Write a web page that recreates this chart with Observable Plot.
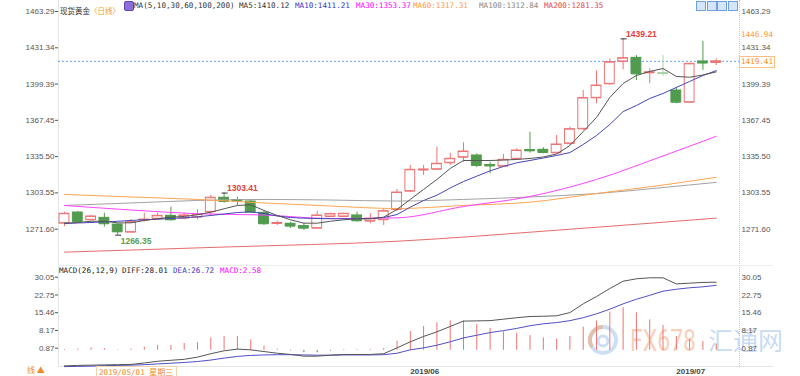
<!DOCTYPE html>
<html><head><meta charset="utf-8">
<script src="https://cdn.jsdelivr.net/npm/d3@7"></script>
<script src="https://cdn.jsdelivr.net/npm/@observablehq/plot@0.6"></script>
<style>
html,body{margin:0;padding:0;background:#fff;}
#wrap{position:relative;width:800px;height:376px;overflow:hidden;background:#fff;}
.abs{position:absolute;white-space:nowrap;line-height:1;}
.mono{font-family:"DejaVu Sans Mono","Liberation Mono",monospace;font-size:7.6px;}
.cjk{font-family:"Noto Sans CJK SC",sans-serif;}
#wrap svg{position:absolute;left:0;overflow:visible;}
</style></head><body><div id="wrap"></div>
<script>
// ---------- data ----------
const dates = ["2019-04-26","2019-04-29","2019-04-30","2019-05-01","2019-05-02","2019-05-03","2019-05-06","2019-05-07","2019-05-08","2019-05-09","2019-05-10","2019-05-13","2019-05-14","2019-05-15","2019-05-16","2019-05-17","2019-05-20","2019-05-21","2019-05-22","2019-05-23","2019-05-24","2019-05-27","2019-05-28","2019-05-29","2019-05-30","2019-05-31","2019-06-03","2019-06-04","2019-06-05","2019-06-06","2019-06-07","2019-06-10","2019-06-11","2019-06-12","2019-06-13","2019-06-14","2019-06-17","2019-06-18","2019-06-19","2019-06-20","2019-06-21","2019-06-24","2019-06-25","2019-06-26","2019-06-27","2019-06-28","2019-07-01","2019-07-02","2019-07-03","2019-07-04"];
const open  = [1276.9,1286.3,1279.9,1281.6,1275.7,1269.0,1279.7,1280.8,1283.4,1281.3,1282.2,1286.9,1299.3,1297.3,1296.0,1286.0,1276.6,1276.4,1274.3,1272.5,1282.8,1282.8,1283.7,1278.7,1279.9,1289.0,1305.1,1323.7,1324.4,1330.1,1335.0,1336.5,1328.1,1327.1,1333.6,1341.3,1341.5,1338.9,1347.1,1360.0,1387.3,1399.6,1419.3,1422.5,1409.3,1409.1,1393.7,1383.4,1419.3,1418.4];
const high  = [1286.6,1287.2,1283.7,1285.7,1276.4,1279.9,1285.7,1285.7,1291.0,1285.7,1288.7,1301.3,1303.41,1299.8,1297.5,1287.5,1278.7,1277.8,1276.9,1287.2,1285.7,1285.7,1286.6,1285.2,1289.6,1306.6,1327.7,1327.7,1343.8,1338.5,1347.7,1338.0,1330.6,1337.4,1342.4,1357.0,1343.5,1354.1,1361.4,1393.7,1411.1,1421.6,1439.21,1424.5,1412.8,1424.5,1396.6,1417.8,1437.1,1421.6];
const low   = [1274.0,1277.5,1279.0,1273.4,1266.35,1268.7,1277.8,1279.9,1278.7,1279.9,1279.9,1282.8,1294.5,1292.5,1285.7,1274.9,1274.9,1272.2,1270.5,1272.0,1281.9,1282.2,1277.8,1276.4,1274.9,1287.2,1304.2,1318.9,1323.9,1327.7,1330.6,1325.7,1320.4,1326.2,1332.7,1338.5,1338.0,1338.0,1345.3,1358.5,1382.0,1398.7,1412.0,1402.5,1399.6,1406.1,1382.0,1382.9,1411.3,1415.7];
const close = [1285.2,1278.4,1282.8,1276.4,1269.3,1277.8,1280.1,1283.4,1279.9,1283.7,1284.5,1299.3,1296.0,1296.4,1286.6,1276.4,1277.1,1274.3,1272.5,1283.7,1285.0,1285.2,1279.0,1280.8,1287.5,1303.9,1323.9,1324.2,1329.2,1333.6,1340.0,1327.7,1327.3,1332.7,1340.9,1340.6,1339.1,1346.2,1359.7,1387.1,1398.1,1418.7,1422.2,1408.4,1409.8,1408.7,1383.4,1417.2,1417.9,1419.41];

const ma5  = [1276.9,1277.5,1278.6,1278.6,1277.2,1277.2,1279.3,1280.8,1282.2,1282.8,1284.3,1286.6,1289.6,1292.5,1293.1,1288.1,1283.7,1279.9,1276.9,1276.9,1278.6,1279.9,1280.8,1280.8,1282.2,1289.0,1297.8,1306.6,1315.4,1325.1,1332.1,1332.1,1332.1,1332.5,1333.0,1333.9,1335.2,1337.8,1345.3,1357.6,1370.0,1387.6,1399.9,1406.9,1410.5,1413.1,1406.1,1405.4,1407.4,1410.12];
const ma10 = [1276.6,1277.1,1277.5,1278.1,1278.6,1279.3,1279.9,1280.4,1281.0,1281.6,1282.5,1283.7,1285.0,1286.3,1286.9,1285.4,1283.2,1281.9,1281.3,1281.0,1280.8,1280.8,1280.8,1281.0,1281.9,1284.5,1291.0,1296.9,1301.5,1307.9,1313.6,1318.3,1323.0,1326.8,1330.1,1332.1,1334.3,1336.5,1339.1,1346.2,1354.1,1363.8,1375.2,1380.5,1386.7,1391.1,1396.4,1401.7,1406.9,1411.21];
const slowIdx = [0,5,10,15,20,25,30,35,40,45,49];
const ma30  = [1292.5,1288.5,1285.2,1284.1,1281.0,1281.6,1291.6,1300.4,1315.4,1336.1,1353.37];
const ma60  = [1302.2,1300.0,1297.8,1294.7,1292.0,1289.8,1292.5,1295.4,1303.0,1310.5,1317.31];
const ma100 = [1292.5,1294.7,1296.9,1297.8,1297.3,1296.4,1297.8,1300.0,1303.0,1308.3,1312.84];
const ma200Idx = [0,12,25,37,49];
const ma200 = [1251.4,1255.9,1261.0,1270.7,1281.35];

const diff = [-6.4,-6.2,-6.1,-6.0,-5.9,-5.8,-5.2,-4.5,-4.1,-3.7,-2.8,-1.4,-0.2,0.5,0.2,-0.5,-1.2,-1.7,-2.4,-2.4,-2.0,-1.7,-1.7,-1.7,-1.4,1.0,3.5,5.7,7.6,9.8,12.0,12.1,12.2,12.8,13.4,13.9,14.0,14.2,15.5,19.1,22.1,25.4,28.4,29.4,29.8,29.8,27.3,27.6,27.9,28.01];
const dea  = [-6.7,-6.6,-6.5,-6.3,-6.2,-6.1,-5.9,-5.6,-5.3,-5.0,-4.6,-4.0,-3.2,-2.5,-2.1,-1.9,-1.8,-1.8,-1.9,-2.0,-2.0,-1.9,-1.9,-1.9,-1.8,-1.2,0.2,1.0,2.1,3.5,5.1,6.2,7.3,8.1,9.0,10.1,10.9,11.4,12.2,13.4,15.0,16.9,19.1,21.0,22.6,24.3,25.1,25.7,26.1,26.72];
const hist = [0.3,0.5,1.0,0.7,0.2,0.5,1.3,2.0,2.0,2.8,3.2,5.1,5.7,5.7,4.3,1.8,0.5,-0.3,-1.0,-1.0,-0.3,0.3,0.3,0.3,0.7,3.7,7.7,9.8,11.3,12.1,12.1,10.6,9.0,7.6,7.0,6.1,5.1,4.6,5.7,9.5,12.0,15.7,17.5,15.4,12.5,10.2,5.7,4.5,3.6,2.58];

const mainTicks = [1271.60,1303.55,1335.50,1367.45,1399.39,1431.34,1463.29];
const macdTicks = [0.87,8.17,15.46,22.75,30.05];
const extremes = [{i:42, v:1439.21, side:"high"},{i:12, v:1303.41, side:"high"},{i:4, v:1266.35, side:"low"}];
const maLabels = [["MA5:1410.12","#333"],["MA10:1411.21","#3535c8"],["MA30:1353.37","#f0f"],["MA60:1317.31","#ff9a3c"],["MA100:1312.84","#888"],["MA200:1281.35","#e04848"]];
const macdLabels = [["MACD(26,12,9)","#222"],["DIFF:28.01","#222"],["DEA:26.72","#3535c8"],["MACD:2.58","#f0f"]];
const markedPrice = 1446.94;

// ---------- styling ----------
const RED = "#ee7373", GREEN = "#519b4e", PALE = "#a9d6a4";
const paleIdx = 45;
const N = close.length;
const candles = d3.range(N).map(i => ({i, open: open[i], high: high[i], low: low[i], close: close[i]}));
const up = d => d.close >= d.open;
const col = d => d.i === paleIdx ? PALE : (up(d) ? RED : GREEN);
const hw = 0.37;
const xDom = [-0.45, 50.75];
const font = "'Liberation Sans', Arial, sans-serif";

const wrap = document.getElementById("wrap");
function add(html, style, cls = "abs") { const e = document.createElement("div"); e.className = cls; e.innerHTML = html; Object.assign(e.style, style); wrap.appendChild(e); return e; }

// watermark (behind everything)
add('<svg width="34" height="34" viewBox="0 0 34 34" style="position:static"><circle cx="17" cy="17" r="13" fill="none" stroke="#8fb7e6" stroke-width="4" opacity="0.45"/><path d="M17 4 A13 13 0 0 0 6 24" fill="none" stroke="#f3a46b" stroke-width="4" opacity="0.5"/><circle cx="17" cy="18" r="5" fill="none" stroke="#8fb7e6" stroke-width="3" opacity="0.45"/></svg>', {left: "586px", top: "323px"});
add("FX678", {left: "630px", top: "324px", fontFamily: "Roboto, sans-serif", fontSize: "32px", color: "rgba(240,128,70,0.38)", transform: "scaleX(0.72)", transformOrigin: "left top"});
add('<span class="cjk">汇通网</span>', {left: "708px", top: "327px", fontSize: "25px", color: "rgba(120,168,228,0.42)"});

// frame lines
add("", {left:"58px", top:"0px", width:"1px", height:"366px", background:"#e4e4e4"});
add("", {left:"739px", top:"0px", width:"0px", height:"366px", borderLeft:"1px dotted #c8c8c8"});
add("", {left:"58px", top:"265px", width:"715px", height:"1px", background:"#ececec"});
add("", {left:"58px", top:"366px", width:"715px", height:"1px", background:"#e4e4e4"});

const pts = (idx, vals) => vals.map((v, k) => ({i: idx[k], v}));
const seq = vals => vals.map((v, i) => ({i, v}));

const main = Plot.plot({
  width: 800, height: 264, marginLeft: 58, marginRight: 61, marginTop: 0, marginBottom: 0,
  x: {type: "linear", domain: xDom, axis: null},
  y: {domain: [1240.52, 1472.98], axis: null},
  style: {background: "none", fontFamily: font, fontSize: "8px", overflow: "visible"},
  marks: [
    Plot.axisY({anchor: "left", ticks: mainTicks, tickFormat: d => d.toFixed(2), tickSize: 3, tickPadding: 1, color: "#555", label: null}),
    Plot.axisY({anchor: "right", ticks: mainTicks, tickFormat: d => d.toFixed(2), tickSize: 0, tickPadding: 2, color: "#555", label: null}),
    Plot.ruleY([close[N-1]], {stroke: "#63a7f0", strokeDasharray: "2,2"}),
    // wicks (not through bodies)
    Plot.ruleX(candles, {x: "i", y1: "high", y2: d => Math.max(d.open, d.close), stroke: col}),
    Plot.ruleX(candles, {x: "i", y1: d => Math.min(d.open, d.close), y2: "low", stroke: col}),
    Plot.rect(candles, {x1: d => d.i - hw, x2: d => d.i + hw, y1: "open", y2: "close", fill: d => up(d) ? "none" : col(d), stroke: col}),
    Plot.ruleY(candles, {y: "open", x1: d => d.i - hw, x2: d => d.i + hw, stroke: col}),
    Plot.ruleY(candles, {y: "close", x1: d => d.i - hw, x2: d => d.i + hw, stroke: col}),
    // moving averages
    Plot.line(pts(ma200Idx, ma200), {x: "i", y: "v", stroke: "#e86b6b", strokeWidth: 1, curve: "monotone-x"}),
    Plot.line(pts(slowIdx, ma100), {x: "i", y: "v", stroke: "#a3a3a3", strokeWidth: 1, curve: "monotone-x"}),
    Plot.line(pts(slowIdx, ma60), {x: "i", y: "v", stroke: "#ffa54f", strokeWidth: 1, curve: "monotone-x"}),
    Plot.line(pts(slowIdx, ma30), {x: "i", y: "v", stroke: "#ff44ff", strokeWidth: 1, curve: "monotone-x"}),
    Plot.line(seq(ma10), {x: "i", y: "v", stroke: "#4646b8", strokeWidth: 1}),
    Plot.line(seq(ma5), {x: "i", y: "v", stroke: "#555", strokeWidth: 1}),
    // extreme markers
    Plot.ruleY(extremes, {y: "v", x1: d => d.i - 0.15, x2: d => d.i + 0.3, stroke: "#333"}),
    Plot.text(extremes.filter(d => d.side === "high"), {x: "i", y: "v", text: d => d.v.toFixed(2), dx: 3, dy: -5, textAnchor: "start", fill: "#e04040", fontWeight: "bold", fontSize: 8.5}),
    Plot.text(extremes.filter(d => d.side === "low"), {x: "i", y: "v", text: d => d.v.toFixed(2), dx: 3, dy: 6, textAnchor: "start", fill: "#5a9e52", fontWeight: "bold", fontSize: 8.5})
  ]
});
main.style.top = "0px";
wrap.appendChild(main);

const macdRows = d3.range(N).map(i => ({i, diff: diff[i], dea: dea[i], h: hist[i]}));
const monthTicks = d3.range(1, N).filter(i => dates[i].slice(5, 7) !== dates[i-1].slice(5, 7) && dates[i].slice(5, 7) !== "05");
const macd = Plot.plot({
  width: 800, height: 112, marginLeft: 58, marginRight: 61, marginTop: 0, marginBottom: 10,
  x: {type: "linear", domain: xDom, axis: null},
  y: {domain: [-6.65, 35.27], axis: null},
  style: {background: "none", fontFamily: font, fontSize: "8px", overflow: "visible"},
  marks: [
    Plot.axisY({anchor: "left", ticks: macdTicks, tickFormat: d => d.toFixed(2), tickSize: 3, tickPadding: 1, color: "#555", label: null}),
    Plot.axisY({anchor: "right", ticks: macdTicks, tickFormat: d => d.toFixed(2), tickSize: 0, tickPadding: 2, color: "#555", label: null}),
    Plot.axisX({ticks: monthTicks, tickFormat: i => dates[i].slice(0, 7).replace("-", "/"), tickSize: 0, tickPadding: 2, textAnchor: "start", color: "#444", fontWeight: "bold", label: null}),
    Plot.ruleX(macdRows, {x: "i", y1: 0, y2: "h", stroke: d => d.h >= 0 ? RED : GREEN}),
    Plot.line(macdRows, {x: "i", y: "dea", stroke: "#4f4fc8", strokeWidth: 1}),
    Plot.line(macdRows, {x: "i", y: "diff", stroke: "#555", strokeWidth: 1})
  ]
});
macd.style.top = "264px";
wrap.appendChild(macd);

// ---------- texts ----------
add('<span class="cjk" style="font-size:7.5px;color:#333">现货黄金</span><span class="cjk" style="font-size:7.5px;color:#f39a2b">〈日线〉</span>', {left: "60px", top: "1px"});
add("", {left: "124px", top: "1px", width: "8px", height: "8px", background: "#8a6fd6", borderRadius: "2px", border: "1px solid #5b43b0"});
add("MA(5,10,30,60,100,200)", {left: "134px", top: "2px", color: "#333"}, "abs mono");
const maLeft = [239, 295, 356, 413, 479, 544];
maLabels.forEach(([t, c], k) => add(t, {left: maLeft[k] + "px", top: "2px", color: c}, "abs mono"));
const macdLeft = [59, 122, 173, 220];
macdLabels.forEach(([t, c], k) => add(t, {left: macdLeft[k] + "px", top: "267px", color: c}, "abs mono"));
[696, 707, 717, 728].forEach(l => add("", {left: l + "px", top: "1px", width: "8px", height: "8px", background: "#d6e6fa", border: "1px solid #6f9fdc"}));

const ys = main.scale("y");
add(markedPrice.toFixed(2), {left: "741px", top: (ys.apply(markedPrice) + 1) + "px", color: "#ff9a3c"}, "abs mono");
add(close[N-1].toFixed(2), {left: "739px", top: (ys.apply(close[N-1]) - 4.5) + "px", color: "#ff8a1c", border: "1px solid #ffbf80", padding: "1px 1px", background: "#fff"}, "abs mono");

add('线 ▲', {left: "27px", top: "366px", color: "#f08a24", fontFamily: "'Noto Sans CJK SC', sans-serif", fontSize: "8px", lineHeight: "8px", height: "8px"});
add('2019/05/01 <span class="cjk" style="font-size:8px">星期三</span>', {left: "96px", top: "366px", color: "#f08a24", border: "1px solid #f3d2b0", padding: "1px 3px 4px 2px", background: "#fff"}, "abs mono");
</script></body></html>
